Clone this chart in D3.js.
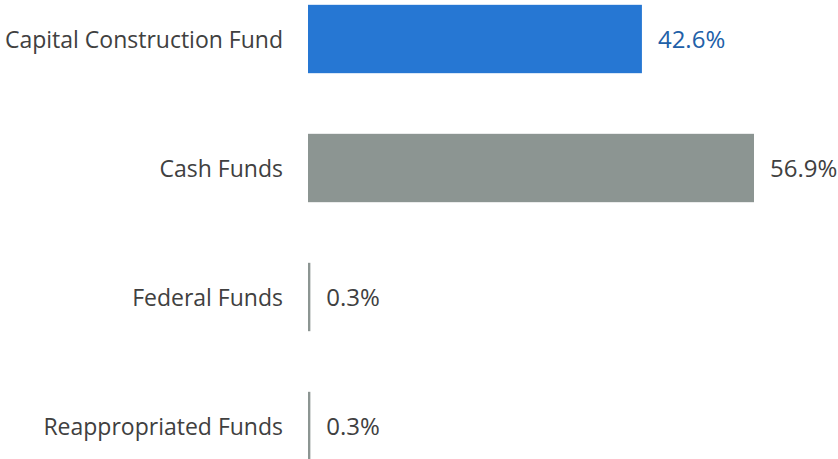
<!DOCTYPE html>
<html>
<head>
<meta charset="utf-8">
<script src="https://cdn.jsdelivr.net/npm/d3@7"></script>
<style>
  body { margin: 0; background: #fff; }
  text { font-family: "Open Sans", sans-serif; }
</style>
</head>
<body>
<div id="chart"></div>
<script>
var categories = ["Capital Construction Fund", "Cash Funds", "Federal Funds", "Reappropriated Funds"];
var values     = [42.6, 56.9, 0.3, 0.3];
var labels     = ["42.6%", "56.9%", "0.3%", "0.3%"];
var barColors  = ["#2677d3", "#8c9592", "#8c9592", "#8c9592"];
var textColors = ["#2160a8", "#404040", "#404040", "#404040"];

var width = 838, height = 459;

var svg = d3.select("#chart").append("svg")
    .attr("width", width).attr("height", height);

var x = d3.scaleLinear().domain([0, 56.9]).range([308, 754]);
var y = d3.scaleBand().domain(categories).range([-25.5, 490.5])
    .paddingInner(0.47).paddingOuter(0.235);

var rows = svg.selectAll("g.row").data(categories).enter().append("g").attr("class", "row");

rows.append("rect")
    .attr("x", x(0))
    .attr("y", function(d) { return y(d); })
    .attr("width", function(d, i) { return x(values[i]) - x(0); })
    .attr("height", y.bandwidth())
    .attr("fill", function(d, i) { return barColors[i]; });

rows.append("text")
    .attr("x", 283)
    .attr("y", function(d) { return y(d) + y.bandwidth() / 2; })
    .attr("dy", "0.38em")
    .attr("text-anchor", "end")
    .attr("font-size", 23)
    .attr("fill", "#404040")
    .text(function(d) { return d; });

rows.append("text")
    .attr("x", function(d, i) { return x(values[i]) + 16; })
    .attr("y", function(d) { return y(d) + y.bandwidth() / 2; })
    .attr("dy", "0.38em")
    .attr("font-size", 24)
    .attr("fill", function(d, i) { return textColors[i]; })
    .text(function(d, i) { return labels[i]; });
</script>
</body>
</html>
